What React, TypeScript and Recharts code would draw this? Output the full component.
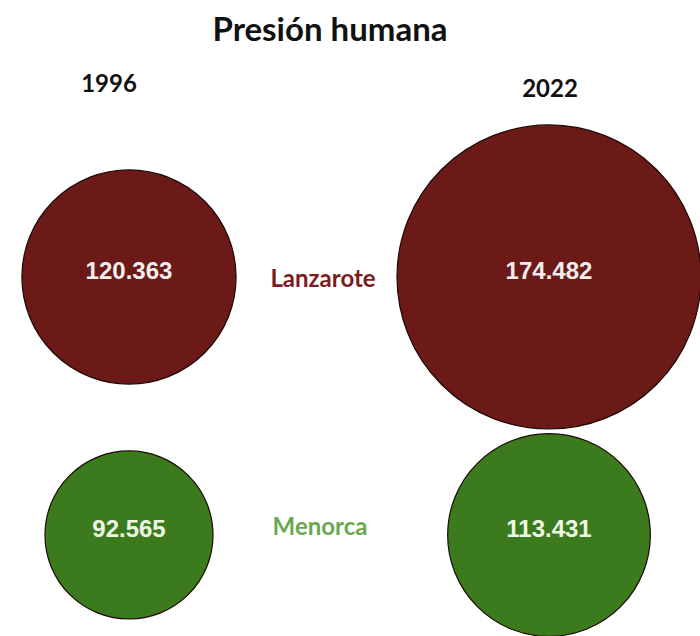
import React from "react"
import { ScatterChart, Scatter, XAxis, YAxis, ZAxis } from "recharts"

// Data
const years = ["1996", "2022"]
const islands = ["Lanzarote", "Menorca"]
const lanzarote = [120363, 174482]
const menorca = [92565, 113431]

const fillColors = ["#6b1a17", "#3c7a1e"]
const nameColors = ["#7b1c21", "#6aa84f"]
const valueColors = ["#f4eeee", "#eef6e6"]

// text layout (label positions only)
const yearPos = [
  { x: 109, y: 83 },
  { x: 550, y: 88 },
]
const islandPos = [
  { x: 323, y: 278 },
  { x: 320, y: 526 },
]

// Spanish style thousands separator
const fmt = (n: number) => n.toString().replace(/\B(?=(\d{3})+(?!\d))/g, ".")

const lanzaroteData = years.map((year, i) => ({ x: i, y: 1, z: lanzarote[i], year }))
const menorcaData = years.map((year, i) => ({ x: i, y: 0, z: menorca[i], year }))

// ZAxis range is used as the circle radius here
const makeShape = (idx: number) => (props: any) => {
  const { cx, cy, size, payload } = props
  const r = Math.max(size, 0)
  return (
    <g>
      <circle cx={cx} cy={cy} r={r} fill={fillColors[idx]} stroke="#1c0806" strokeWidth={1.2} />
      <text
        x={cx}
        y={cy - 6}
        textAnchor="middle"
        dominantBaseline="central"
        fill={valueColors[idx]}
        fontFamily="'Liberation Sans', Arial, sans-serif"
        fontWeight="bold"
        fontSize={24}
      >
        {fmt(payload.z)}
      </text>
    </g>
  )
}

const textStyle: React.CSSProperties = {
  position: "absolute",
  transform: "translate(-50%, -50%)",
  fontFamily: "Lato, sans-serif",
  fontWeight: "bold",
  whiteSpace: "nowrap",
  lineHeight: 1,
}

export default function App() {
  return (
    <div style={{ position: "absolute", left: 0, top: 0, width: 700, height: 636, background: "#fff", overflow: "hidden" }}>
      <ScatterChart width={700} height={636} margin={{ top: 0, right: 0, bottom: 0, left: 0 }}>
        <XAxis type="number" dataKey="x" domain={[-0.3071, 1.3595]} hide allowDataOverflow />
        <YAxis type="number" dataKey="y" domain={[-0.3915, 2.0736]} hide allowDataOverflow />
        <ZAxis type="number" dataKey="z" domain={[90000, 180000]} range={[81.9, 156.6]} />
        <Scatter data={lanzaroteData} shape={makeShape(0)} isAnimationActive={false} />
        <Scatter data={menorcaData} shape={makeShape(1)} isAnimationActive={false} />
      </ScatterChart>

      <div style={{ ...textStyle, left: 330, top: 28, fontSize: 33, color: "#111" }}>Presión humana</div>
      {years.map((yr, i) => (
        <div key={yr} style={{ ...textStyle, left: yearPos[i].x, top: yearPos[i].y, fontSize: 24, color: "#111" }}>
          {yr}
        </div>
      ))}
      {islands.map((name, i) => (
        <div key={name} style={{ ...textStyle, left: islandPos[i].x, top: islandPos[i].y, fontSize: 24, color: nameColors[i] }}>
          {name}
        </div>
      ))}
    </div>
  )
}
